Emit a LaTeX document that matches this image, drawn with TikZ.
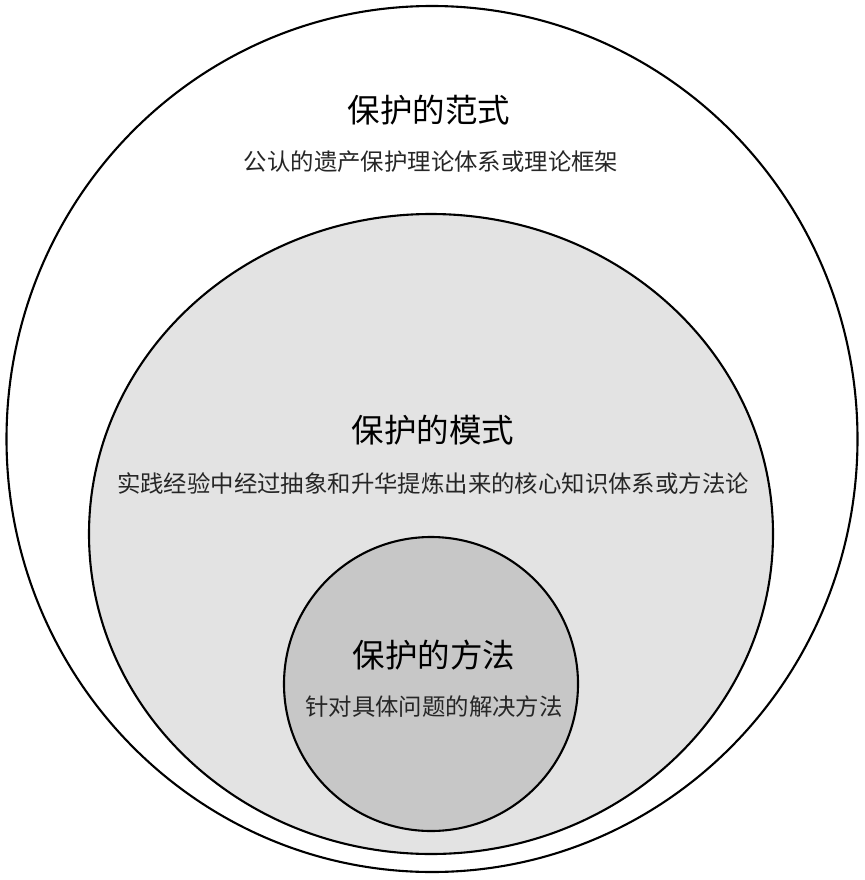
\documentclass[tikz,border=0pt]{standalone}
\usepackage{fontspec}
\usepackage{tikz}
\usetikzlibrary{shapes.geometric}
\newfontfamily\cjk{Noto Sans CJK SC}

\begin{document}
\begin{tikzpicture}[x=1pt, y=-1pt,
    ring/.style={shape=ellipse, draw=black, line width=2.1pt, inner sep=0pt},
    title/.style={font=\cjk\fontsize{32.5}{36}\selectfont, text=black},
    note/.style={font=\cjk\fontsize{23.4}{27}\selectfont, text=black!85}]
    \useasboundingbox (0,0) rectangle (864,880);
    \node[ring, minimum width=851pt, minimum height=866pt] at (432,439) (Paradigm) {};
    \node[ring, fill=black!11, minimum width=684pt, minimum height=640pt] at (431,534) (Mode) {};
    \node[ring, fill=black!22, minimum width=294pt, minimum height=294pt] at (431,684) (Method) {};
    \node[title] at (429,110) (T0) {保护的范式};
    \node[note] at (431,162) (S0) {公认的遗产保护理论体系或理论框架};
    \node[title] at (433,430) (T1) {保护的模式};
    \node[note] at (433,484) (S1) {实践经验中经过抽象和升华提炼出来的核心知识体系或方法论};
    \node[title] at (434,655) (T2) {保护的方法};
    \node[note] at (434,707) (S2) {针对具体问题的解决方法};
\end{tikzpicture}
\end{document}
